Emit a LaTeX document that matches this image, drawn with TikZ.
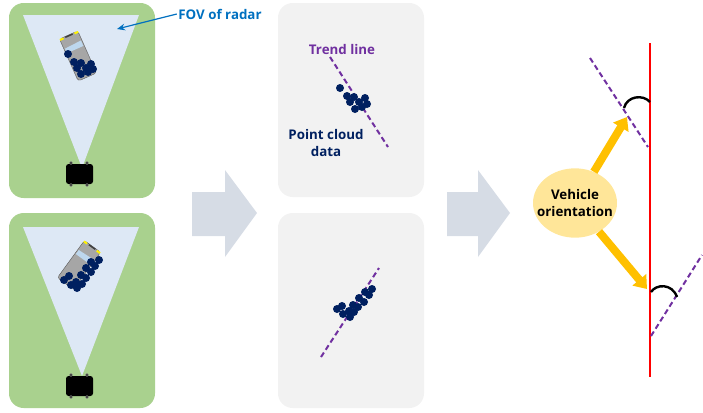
\documentclass[tikz,border=0pt]{standalone}
\usepackage{fontspec}
\setmainfont{Open Sans}
\usetikzlibrary{arrows.meta,shapes.geometric}

\definecolor{fieldgreen}{HTML}{A9D18E}
\definecolor{fovblue}{HTML}{DDE8F5}
\definecolor{panelgray}{HTML}{F2F2F2}
\definecolor{stepgray}{HTML}{D6DCE5}
\definecolor{dotnavy}{HTML}{002060}
\definecolor{trendpurple}{HTML}{7030A0}
\definecolor{labelblue}{HTML}{0070C0}
\definecolor{arrowgold}{HTML}{FFC000}
\definecolor{bubble}{HTML}{FFE699}
\definecolor{carbody}{HTML}{A6A6A6}
\definecolor{glass}{HTML}{BDD7EE}

\tikzset{
  field/.style={fill=fieldgreen, rounded corners=11pt},
  panel/.style={fill=panelgray, rounded corners=11pt},
  fov/.style={fill=fovblue},
  dot/.style={fill=dotnavy},
  trend/.style={draw=trendpurple, line width=1.5pt, dash pattern=on 4pt off 2.5pt},
  txt/.style={font=\bfseries\fontsize{10}{13}\selectfont, align=center, inner sep=1pt},
  bubblenode/.style={ellipse, fill=bubble, minimum width=63pt, minimum height=52pt, inner sep=0pt},
  fovarrow/.style={draw=labelblue, line width=0.9pt, -{Stealth[length=6pt,width=5pt]}},
  goldarrow/.style={draw=arrowgold, line width=6pt, -{Triangle[length=9pt,width=13pt]}},
  refline/.style={draw=red, line width=1.5pt},
  anglemark/.style={draw=black, line width=1.8pt},
  vehicle/.pic={
    \filldraw[fill=carbody, draw=gray!70!black, line width=0.3pt, rounded corners=2pt] (-23,-10) rectangle (23,10);
    \fill[glass] (7,-9) -- (12,-9) -- (13,9) -- (7,9) -- cycle;
    \fill[yellow] (21,-10) rectangle (23,-6);
    \fill[yellow] (21,6) rectangle (23,10);
    \fill[black!75] (21.5,-4) rectangle (23,4);
  }
}

\begin{document}
\begin{tikzpicture}[x=0.75pt, y=-0.75pt]
\useasboundingbox (0,0) rectangle (703,412);

% radar scenes
\fill[field] (9,3) rectangle (155,198);
\fill[field] (9,213) rectangle (155,408);
\fill[fov] (23,15) -- (139,15) -- (82,168) -- cycle;
\fill[fov] (23,227) -- (139,227) -- (82,376) -- cycle;
\foreach \ry in {164,376} {
  \fill[black, rounded corners=2pt] (66,\ry) rectangle (93,\ry+20);
  \foreach \tx in {71,87} {
    \filldraw[fill=black, draw=gray] (\tx,\ry-1) circle[radius=1.1pt];
    \filldraw[fill=black, draw=gray] (\tx,\ry+21) circle[radius=1.1pt];
  }
}
\pic[rotate=114] at (78,56) {vehicle};
\pic[rotate=54] at (79,265) {vehicle};
\foreach \x/\y in {68/54,74/62,81/63,77/68,86/68,91/64,93/69,88/72,81/74}
  \fill[dot] (\x,\y) circle[radius=3pt];
\foreach \x/\y in {64/280,69/276,71/285,76/282,77/288,82/284,81/275,86/278,86/268,91/272,91/262,95/266,99/260}
  \fill[dot] (\x,\y) circle[radius=3pt];

\node[txt, text=labelblue] (fovlabel) at (220,14) {FOV of radar};
\coordinate (fovtip) at (117,29);
\draw[fovarrow] (fovlabel.west) -- (fovtip);

% step arrows
\fill[stepgray] (192,192) -- (225,192) -- (225,170) -- (257,213) -- (225,257) -- (225,236) -- (192,236) -- cycle;
\fill[stepgray] (447,192) -- (478,192) -- (478,170) -- (510,213) -- (478,257) -- (478,236) -- (447,236) -- cycle;

% point clouds with trend lines
\fill[panel] (278,3) rectangle (424,197);
\fill[panel] (278,213) rectangle (424,408);
\coordinate (ta) at (330,57);
\coordinate (tb) at (388,147);
\draw[trend] (ta) -- (tb);
\foreach \x/\y in {340/88,347/96,354/97,350/102,359/102,365/98,367/104,362/107,355/109}
  \fill[dot] (\x,\y) circle[radius=3pt];
\node[txt, text=trendpurple] (trendlabel) at (342,49) {Trend line};
\node[txt, text=dotnavy] (cloudlabel) at (326,143) {Point cloud\\data};

\coordinate (ba) at (321,357);
\coordinate (bb) at (379,268);
\draw[trend] (ba) -- (bb);
\foreach \x/\y in {337/309,342/306,343/314,349/311,350/317,354/312,353/305,358/307,359/298,364/302,365/292,369/295,372/289}
  \fill[dot] (\x,\y) circle[radius=3pt];

% orientation against the reference line
\coordinate (redtop) at (650,43);
\coordinate (redbot) at (650,377);
\draw[refline] (redtop) -- (redbot);
\coordinate (ua) at (590,58);
\coordinate (ub) at (648,147);
\draw[trend] (ua) -- (ub);
\coordinate (la) at (651,336);
\coordinate (lb) at (702,255);
\draw[trend] (la) -- (lb);
\coordinate (uarc1) at (624,108);
\coordinate (uarc2) at (650,102);
\draw[anglemark] (uarc1) .. controls (627,96) and (643,94) .. (uarc2);
\coordinate (larc1) at (651,292);
\coordinate (larc2) at (677,297);
\draw[anglemark] (larc1) .. controls (656,284) and (672,283) .. (larc2);

\node[bubblenode] (orient) at (575,203) {};
\node[txt] (orienttext) at (orient.center) {Vehicle\\orientation};
\coordinate (uptip) at (627,117);
\coordinate (downtip) at (647,289);
\draw[goldarrow] (orient) -- (uptip);
\draw[goldarrow] (orient) -- (downtip);
\end{tikzpicture}
\end{document}
